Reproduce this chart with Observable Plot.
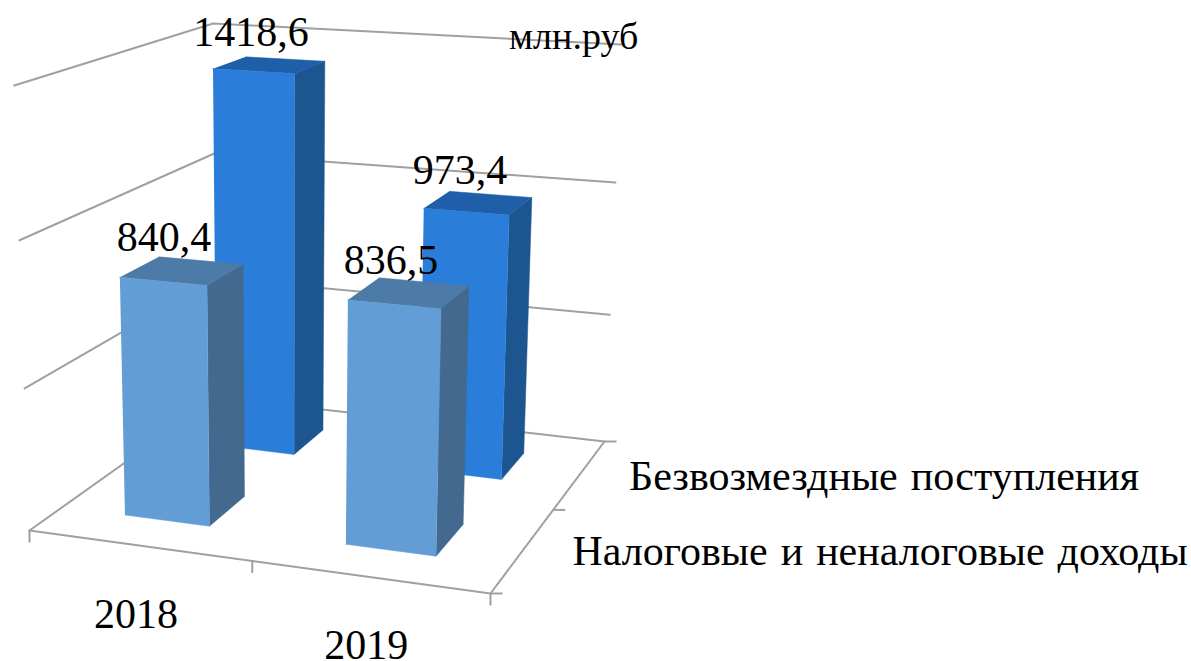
<!DOCTYPE html>
<html>
<head>
<meta charset="utf-8">
<script src="https://cdn.jsdelivr.net/npm/d3@7"></script>
<script src="https://cdn.jsdelivr.net/npm/@observablehq/plot@0.6"></script>
<style>html,body{margin:0;padding:0;background:#fff}</style>
</head>
<body>
<div id="chart"></div>
<script>
// Data
const years = ["2018", "2019"];
const seriesNames = ["Налоговые и неналоговые доходы", "Безвозмездные поступления"];
const taxIncome = [840.4, 836.5];
const grants = [1418.6, 973.4];
const unitLabel = "млн.руб";
const axisLevels = [0, 500, 1000, 1500];

// 3D box of the chart as seen on the page: floor and ceiling corners (FL, FR, BR, BL)
const floorCorners = [[29, 530], [490, 593], [604, 441], [216, 397]];
const topCorners = [[13, 85], [500, 118], [617, 44], [204, 23]];
const verticalVanish = [285, 8000];
const maxLevel = 1500, perspective = 1.066, footprint = 0.39, barShift = -0.012;

function homography(q) {
  const [[x0, y0], [x1, y1], [x2, y2], [x3, y3]] = q;
  const dx1 = x1 - x2, dx2 = x3 - x2, sx = x0 - x1 + x2 - x3;
  const dy1 = y1 - y2, dy2 = y3 - y2, sy = y0 - y1 + y2 - y3;
  const den = dx1 * dy2 - dx2 * dy1;
  const g = (sx * dy2 - dx2 * sy) / den, h = (dx1 * sy - sx * dy1) / den;
  const a = x1 - x0 + g * x1, b = x3 - x0 + h * x3;
  const d = y1 - y0 + g * y1, e = y3 - y0 + h * y3;
  return (s, t) => {
    const w = g * s + h * t + 1;
    return [(a * s + b * t + x0) / w, (d * s + e * t + y0) / w];
  };
}
const floorH = homography(floorCorners), topH = homography(topCorners);
// u, v run 0..2 over categories and series; w is the value.
// Verticals all converge on one vanishing point below the chart.
function project(u, v, w) {
  const a = floorH(u / 2, v / 2), b = topH(u / 2, v / 2);
  const t = w / maxLevel;
  const f = t / (t + perspective * (1 - t));
  const y = a[1] + (b[1] - a[1]) * f;
  const [vx, vy] = verticalVanish;
  return [vx + (a[0] - vx) * (vy - y) / (vy - a[1]), y];
}

const palettes = [
  {front: "#639dd5", top: "#4c7ba8", side: "#43698f"},
  {front: "#2a7dd8", top: "#1f5ea9", side: "#1c558f"}
];

// Bars, painted back to front
const bars = [];
[[1, grants], [0, taxIncome]].forEach(([v, vals]) => {
  vals.forEach((value, u) => bars.push({u, v, value}));
});
const polys = [];
let pid = 0;
function addPoly(pts, color) {
  pid++;
  pts.forEach(p => polys.push({x: p[0], y: p[1], id: pid, color}));
}
for (const {u, v, value} of bars) {
  const h = footprint / 2;
  const u0 = u + 0.5 + barShift - h, u1 = u + 0.5 + barShift + h, v0 = v + 0.5 - h, v1 = v + 0.5 + h;
  const pal = palettes[v];
  addPoly([project(u1, v0, 0), project(u1, v1, 0), project(u1, v1, value), project(u1, v0, value)], pal.side);
  addPoly([project(u0, v0, value), project(u1, v0, value), project(u1, v1, value), project(u0, v1, value)], pal.top);
  addPoly([project(u0, v0, 0), project(u1, v0, 0), project(u1, v0, value), project(u0, v0, value)], pal.front);
}

// Grid and axes
const gridPts = [];
axisLevels.forEach(level => {
  [[0, 0], [0, 2], [2, 2]].forEach(([u, v]) => {
    const p = project(u, v, level);
    gridPts.push({x: p[0], y: p[1], id: "g" + level});
  });
});
[[0, 0], [2, 0], [2, 2]].forEach(([u, v]) => {
  const p = project(u, v, 0);
  gridPts.push({x: p[0], y: p[1], id: "floor"});
});
const tickLen = 12;
const ticks = [];
[0, 1, 2].forEach(u => {
  const p = project(u, 0, 0);
  ticks.push({x1: p[0], y1: p[1], x2: p[0], y2: p[1] + tickLen});
});
[0, 1, 2].forEach(v => {
  const p = project(2, v, 0);
  ticks.push({x1: p[0], y1: p[1], x2: p[0] + tickLen, y2: p[1]});
});

const valueLabels = bars.map(({u, v, value}) => {
  const p = project(u + 0.5, v + 0.5, value);
  return {x: p[0], y: p[1], text: value.toFixed(1).replace(".", ",")};
});
const yearLabels = years.map((text, u) => {
  const p = project(u + 0.5, 0, 0);
  return {x: p[0], y: p[1], text};
});
const seriesLabels = seriesNames.map((text, v) => {
  const p = project(2, v + 0.5, 0);
  return {x: p[0], y: p[1], text};
});
const unitPos = project(2, 2, maxLevel);

const fontFamily = "'Liberation Serif', serif";
const chart = Plot.plot({
  width: 1191, height: 661,
  marginTop: 0, marginRight: 0, marginBottom: 0, marginLeft: 0,
  x: {domain: [0, 1191], range: [0, 1191], axis: null},
  y: {domain: [0, 661], range: [0, 661], axis: null},
  color: {type: "identity"},
  style: {fontFamily, background: "#fff", wordSpacing: "2.5px", overflow: "visible"},
  marks: [
    Plot.line(gridPts, {x: "x", y: "y", z: "id", stroke: "#a0a0a0", strokeWidth: 2}),
    Plot.link(ticks, {x1: "x1", y1: "y1", x2: "x2", y2: "y2", stroke: "#a0a0a0", strokeWidth: 2}),
    Plot.line(polys, {x: "x", y: "y", z: "id", fill: "color", stroke: "color", strokeWidth: 0.5}),
    Plot.text(valueLabels, {x: "x", y: "y", text: "text", dx: -21, dy: -33, fontSize: 42, fill: "#000"}),
    Plot.text(yearLabels, {x: "x", y: "y", text: "text", dx: -3, dy: 69, fontSize: 42, fill: "#000"}),
    Plot.text(seriesLabels, {x: "x", y: "y", text: "text", dx: 49, dy: 2, textAnchor: "start", fontSize: 42, fill: "#000"}),
    Plot.text([unitLabel], {x: () => unitPos[0], y: () => unitPos[1], text: d => d, dx: 17, dy: -8, textAnchor: "end", fontSize: 38, fill: "#000"})
  ]
});
document.getElementById("chart").appendChild(chart);
</script>
</body>
</html>
